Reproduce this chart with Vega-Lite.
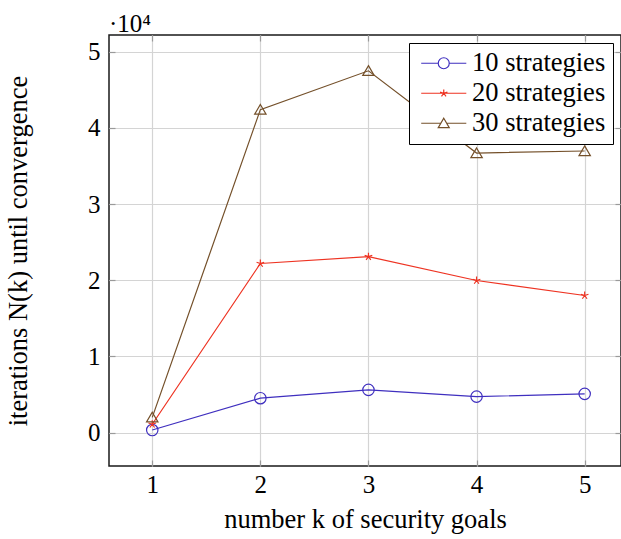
{
  "$schema": "https://vega.github.io/schema/vega-lite/v6.json",
  "width": 512,
  "height": 431,
  "autosize": {"type": "none"},
  "padding": {"left": 109, "top": 35, "right": 0, "bottom": 73},
  "background": "white",
  "title": {"text": "·10⁴", "anchor": "start", "frame": "group", "fontSize": 25, "font": "Liberation Serif", "fontWeight": "normal", "color": "black", "offset": -3},
  "config": {
    "view": {"stroke": "#1a1a1a", "strokeWidth": 1.5},
    "font": "Liberation Serif",
    "axis": {"labelFont": "Liberation Serif", "titleFont": "Liberation Serif", "labelColor": "black", "titleColor": "black", "titleFontWeight": "normal"},
    "legend": {"labelFont": "Liberation Serif", "labelFontSize": 26.5, "labelColor": "black"}
  },
  "data": {"values": [
    {"k": 1, "iterations": 340, "series": "10 strategies"},
    {"k": 2, "iterations": 4520, "series": "10 strategies"},
    {"k": 3, "iterations": 5610, "series": "10 strategies"},
    {"k": 4, "iterations": 4730, "series": "10 strategies"},
    {"k": 5, "iterations": 5090, "series": "10 strategies"},
    {"k": 1, "iterations": 1100, "series": "20 strategies"},
    {"k": 2, "iterations": 22200, "series": "20 strategies"},
    {"k": 3, "iterations": 23100, "series": "20 strategies"},
    {"k": 4, "iterations": 19970, "series": "20 strategies"},
    {"k": 5, "iterations": 18000, "series": "20 strategies"},
    {"k": 1, "iterations": 2000, "series": "30 strategies"},
    {"k": 2, "iterations": 42400, "series": "30 strategies"},
    {"k": 3, "iterations": 47500, "series": "30 strategies"},
    {"k": 4, "iterations": 36700, "series": "30 strategies"},
    {"k": 5, "iterations": 36970, "series": "30 strategies"}
  ]},
  "resolve": {"scale": {"shape": "independent", "color": "independent"}, "legend": {"shape": "independent", "color": "independent"}, "axis": {"x": "independent", "y": "independent"}},
  "layer": [
    {
      "mark": {"type": "line", "strokeWidth": 1.2},
      "encoding": {
        "x": {"field": "k", "type": "quantitative", "scale": {"domain": [0.6, 5.336], "nice": false, "zero": false},
          "axis": {"values": [1, 2, 3, 4, 5], "grid": true, "gridColor": "#d4d4d4", "gridWidth": 1.2, "domain": false, "tickSize": -6, "tickColor": "#9a9a9a", "tickWidth": 1.2, "labelFontSize": 25, "labelPadding": 12, "title": "number k of security goals", "titleFontSize": 26.5, "titlePadding": 9}},
        "y": {"field": "iterations", "type": "quantitative", "scale": {"domain": [-4380, 52200], "nice": false, "zero": false},
          "axis": {"values": [0, 10000, 20000, 30000, 40000, 50000], "labelExpr": "datum.value / 10000", "grid": true, "gridColor": "#d4d4d4", "gridWidth": 1.2, "domain": false, "tickSize": -6, "tickColor": "#9a9a9a", "tickWidth": 1.2, "labelFontSize": 25, "labelPadding": 15, "title": "iterations N(k) until convergence", "titleFontSize": 26.5, "titlePadding": 55}},
        "color": {"field": "series", "type": "nominal", "scale": {"domain": ["10 strategies", "20 strategies", "30 strategies"], "range": ["#3f2fbf", "#ee3322", "#74502a"]}, "legend": null}
      }
    },
    {
      "mark": {"type": "point", "filled": false, "strokeWidth": 1.2, "size": 130, "opacity": 1},
      "encoding": {
        "x": {"field": "k", "type": "quantitative", "axis": {"orient": "top", "values": [1, 2, 3, 4, 5], "labels": false, "grid": false, "domain": false, "tickSize": -6, "tickColor": "#9a9a9a", "tickWidth": 1.2, "title": null}},
        "y": {"field": "iterations", "type": "quantitative", "axis": {"orient": "right", "values": [0, 10000, 20000, 30000, 40000, 50000], "labels": false, "grid": false, "domain": false, "tickSize": -6, "tickColor": "#9a9a9a", "tickWidth": 1.2, "title": null}},
        "color": {"field": "series", "type": "nominal", "scale": {"domain": ["10 strategies", "20 strategies", "30 strategies"], "range": ["#3f2fbf", "#ee3322", "#74502a"]}, "legend": null},
        "shape": {"field": "series", "type": "nominal", "legend": null, "scale": {"domain": ["10 strategies", "20 strategies", "30 strategies"], "range": ["circle", "M0,0L0,-0.7M0,0L0.666,-0.216M0,0L0.412,0.566M0,0L-0.412,0.566M0,0L-0.666,-0.216", "M0,-0.9L1,0.8L-1,0.8Z"]}}
      }
    },
    {
      "transform": [{"filter": "datum.k > 100"}],
      "mark": {"type": "point", "filled": false, "strokeWidth": 1.2, "size": 130, "opacity": 1},
      "encoding": {
        "x": {"field": "k", "type": "quantitative", "axis": null},
        "y": {"field": "iterations", "type": "quantitative", "axis": null},
        "color": {"field": "series", "type": "nominal", "scale": {"domain": ["10 strategies", "20 strategies", "30 strategies"], "range": ["#3f2fbf", "#ee3322", "#74502a"]},
          "legend": {"title": null, "orient": "top-right", "offset": 8, "strokeColor": "black", "fillColor": "white", "padding": 7, "labelFontSize": 26.5, "labelFont": "Liberation Serif", "labelColor": "black", "symbolSize": 121, "symbolOffset": 14.5, "labelOffset": 15, "rowPadding": 3, "symbolStrokeWidth": 1.2}},
        "shape": {"field": "series", "type": "nominal",
          "scale": {"domain": ["10 strategies", "20 strategies", "30 strategies"], "range": ["M-4.1,0H-1M1,0H4.1M-1,0A1,1,0,1,1,1,0A1,1,0,1,1,-1,0", "M-4.1,0H4.1M0,0L0,-0.7M0,0L0.666,-0.216M0,0L0.412,0.566M0,0L-0.412,0.566M0,0L-0.666,-0.216", "M-4.1,0H-0.55M0.55,0H4.1M0,-0.9L1,0.8L-1,0.8Z"]},
          "legend": {"title": null, "orient": "top-right", "offset": 8, "strokeColor": "black", "fillColor": "white", "padding": 7, "labelFontSize": 26.5, "labelFont": "Liberation Serif", "labelColor": "black", "symbolSize": 121, "symbolOffset": 14.5, "labelOffset": 15, "rowPadding": 3, "symbolStrokeWidth": 1.2}
        }
      }
    }
  ]
}
